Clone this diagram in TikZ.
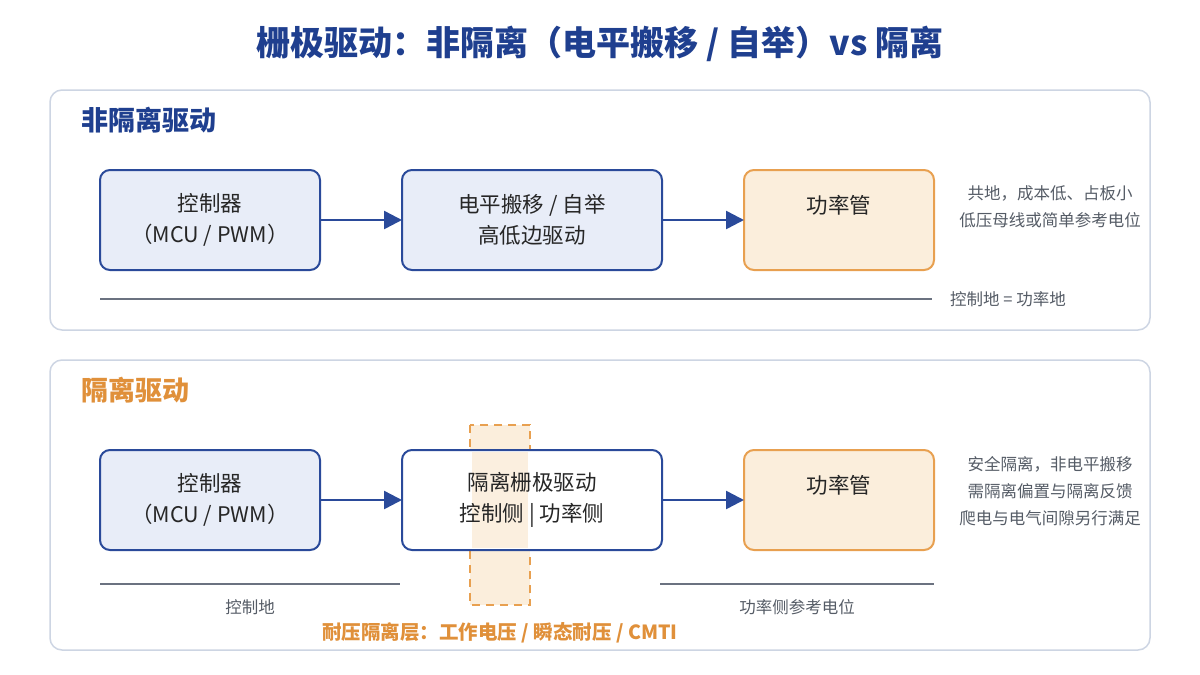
\documentclass[tikz,border=0pt]{standalone}
\usepackage{fontspec}
\setmainfont{Noto Sans CJK SC}
\usetikzlibrary{arrows.meta}
\definecolor{navy}{HTML}{1F3F8F}
\definecolor{bline}{HTML}{2A4A9A}
\definecolor{bfill}{HTML}{E8EDF8}
\definecolor{ofill}{HTML}{FBEEDC}
\definecolor{oline}{HTML}{E8A050}
\definecolor{otext}{HTML}{E0903A}
\definecolor{panel}{HTML}{CDD5E3}
\definecolor{gtext}{HTML}{555C66}
\definecolor{gline}{HTML}{6B7280}
\tikzset{
 panel/.style={draw=panel,line width=1.5pt,rounded corners=12pt},
 blue/.style={draw=bline,fill=bfill,line width=2pt,rounded corners=10pt},
 wbox/.style={draw=bline,fill=white,line width=2pt,rounded corners=10pt},
 org/.style={draw=oline,fill=ofill,line width=2pt,rounded corners=10pt},
 btxt/.style={font=\fontsize{21.5}{31}\selectfont,text=black!85,align=center},
 side/.style={font=\fontsize{16.5}{27}\selectfont,text=gtext,align=center},
 arr/.style={draw=bline,line width=2.5pt,-{Triangle[length=18pt,width=18pt]}},
 gl/.style={draw=gline,line width=2pt}
}
\begin{document}
\begin{tikzpicture}[x=1pt,y=-1pt]
\useasboundingbox[fill=white] (0,0) rectangle (1200,675);
\node[font=\fontsize{34}{40}\selectfont\bfseries,text=navy] (title) at (600,44) {栅极驱动：非隔离（电平搬移 / 自举）vs 隔离};
% panel 1
\draw[panel] (50,90) rectangle (1150,330);
\node[anchor=west,font=\fontsize{27}{30}\selectfont\bfseries,text=navy] (t1) at (78,120) {非隔离驱动};
\draw[blue] (100,170) rectangle (320,270);
\node[btxt] (a1) at (210,220) {控制器\\（MCU / PWM）};
\draw[blue] (402,170) rectangle (662,270);
\node[btxt] (b1) at (532,220) {电平搬移 / 自举\\高低边驱动};
\draw[org] (744,170) rectangle (934,270);
\node[btxt] (c1) at (839,205) {功率管};
\coordinate (a1e) at (320,220); \coordinate (b1w) at (402,220);
\coordinate (b1e) at (662,220); \coordinate (c1w) at (744,220);
\draw[arr] (a1e) -- (b1w);
\draw[arr] (b1e) -- (c1w);
\node[side] (s1) at (1050,207) {共地，成本低、占板小\\低压母线或简单参考电位};
\coordinate (g1a) at (100,299); \coordinate (g1b) at (932,299);
\draw[gl] (g1a) -- (g1b);
\node[side] (g1t) at (1008,299) {控制地 = 功率地};
% panel 2
\draw[panel] (50,360) rectangle (1150,650);
\node[anchor=west,font=\fontsize{27}{30}\selectfont\bfseries,text=otext] (t2) at (78,390) {隔离驱动};
\draw[blue] (100,450) rectangle (320,550);
\node[btxt] (a2) at (210,500) {控制器\\（MCU / PWM）};
\draw[oline,fill=ofill,dashed,dash pattern=on 8pt off 6pt,line width=2pt] (470,425) rectangle (530,605);
\draw[wbox] (402,450) rectangle (662,550);
\fill[ofill,opacity=0.9] (472,452) rectangle (528,548);
\node[btxt] (b2) at (532,500) {隔离栅极驱动\\控制侧 | 功率侧};
\draw[org] (744,450) rectangle (934,550);
\node[btxt] (c2) at (839,485) {功率管};
\coordinate (a2e) at (320,500); \coordinate (b2w) at (402,500);
\coordinate (b2e) at (662,500); \coordinate (c2w) at (744,500);
\draw[arr] (a2e) -- (b2w);
\draw[arr] (b2e) -- (c2w);
\node[side] (s2) at (1050,491) {安全隔离，非电平搬移\\需隔离偏置与隔离反馈\\爬电与电气间隙另行满足};
\coordinate (g2a) at (100,584); \coordinate (g2b) at (400,584);
\coordinate (g3a) at (660,584); \coordinate (g3b) at (934,584);
\draw[gl] (g2a) -- (g2b);
\draw[gl] (g3a) -- (g3b);
\node[side] (g2t) at (250,607) {控制地};
\node[side] (g3t) at (797,607) {功率侧参考电位};
\node[font=\fontsize{19.5}{22}\selectfont\bfseries,text=otext] (iso) at (500,633) {耐压隔离层：工作电压 / 瞬态耐压 / CMTI};
\end{tikzpicture}
\end{document}
